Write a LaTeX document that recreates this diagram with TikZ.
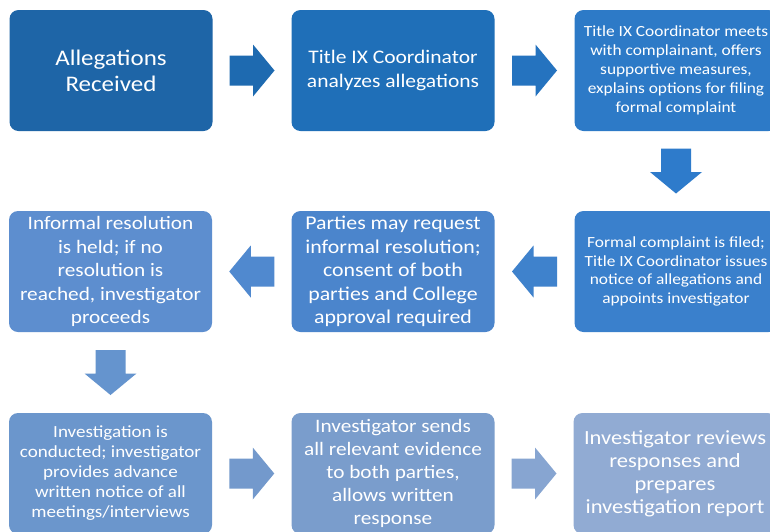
\documentclass[tikz,border=0pt]{standalone}
\usepackage{fontspec}
\setmainfont{Carlito}[FakeStretch=1.12]
\usetikzlibrary{calc}
\definecolor{cA}{HTML}{1E65A7}
\definecolor{cB}{HTML}{1F6FB8}
\definecolor{cC}{HTML}{2D7AC7}
\definecolor{cD}{HTML}{3A80CC}
\definecolor{cE}{HTML}{4B85CC}
\definecolor{cF}{HTML}{5D8ECF}
\definecolor{cG}{HTML}{6B96CC}
\definecolor{cH}{HTML}{7A9DCC}
\definecolor{cI}{HTML}{91ABD3}
\definecolor{aA}{HTML}{1E6AB0}
\definecolor{aB}{HTML}{2573BF}
\definecolor{aC}{HTML}{2E7BCB}
\definecolor{aD}{HTML}{3F82CC}
\definecolor{aE}{HTML}{5089CF}
\definecolor{aF}{HTML}{6594CE}
\definecolor{aG}{HTML}{7399CC}
\definecolor{aH}{HTML}{87A5D1}
\tikzset{
  stepbox/.style={rectangle, rounded corners=9pt, minimum width=203pt, minimum height=121pt,
    inner sep=0pt, align=center, text=white},
  blockarrow/.pic={\fill (-22.5,-15) -- (1,-15) -- (1,-26) -- (22.5,0) -- (1,26) -- (1,15) -- (-22.5,15) -- cycle;}
}
\newcommand{\fs}[2]{\fontsize{#1}{#2}\selectfont}
\begin{document}
\begin{tikzpicture}[x=1pt,y=-1pt]
\useasboundingbox (0,0) rectangle (770,531);
\fill[white] (0,0) rectangle (770,531);
\node[stepbox, fill=cA, font=\fs{22.3}{26}] (b1) at (111,70.5) {Allegations\\Received};
\node[stepbox, fill=cB, font=\fs{19.2}{23.5}] (b2) at (393,70.5) {Title IX Coordinator\\analyzes allegations};
\node[stepbox, fill=cC, font=\fs{15.5}{19}] (b3) at (676,70.5) {Title IX Coordinator meets\\with complainant, offers\\supportive measures,\\explains options for filing\\formal complaint};
\node[stepbox, fill=cF, font=\fs{19}{23.5}] (b4) at (110.5,271.5) {Informal resolution\\is held; if no\\resolution is\\reached, investigator\\proceeds};
\node[stepbox, fill=cE, font=\fs{19.5}{23.5}] (b5) at (393,271.5) {Parties may request\\informal resolution;\\consent of both\\parties and College\\approval required};
\node[stepbox, fill=cD, font=\fs{15.5}{18.5}] (b6) at (676,271.5) {Formal complaint is filed;\\Title IX Coordinator issues\\notice of allegations and\\appoints investigator};
\node[stepbox, fill=cG, font=\fs{17}{20}] (b7) at (110.5,473.5) {Investigation is\\conducted; investigator\\provides advance\\written notice of all\\meetings/interviews};
\node[stepbox, fill=cH, font=\fs{19}{23}] (b8) at (393,473.5) {Investigator sends\\all relevant evidence\\to both parties,\\allows written\\response};
\node[stepbox, fill=cI, font=\fs{20.1}{23}] (b9) at (675,473.5) {Investigator reviews\\responses and\\prepares\\investigation report};
% block arrows between steps
\path ($(b1.east)!0.5!(b2.west)$) pic[fill=aA] {blockarrow};
\path ($(b2.east)!0.5!(b3.west)$) pic[fill=aB] {blockarrow};
\path ($(b3.south)!0.5!(b6.north)$) pic[fill=aC, rotate=-90] {blockarrow};
\path ($(b6.west)!0.5!(b5.east)$) pic[fill=aD, rotate=180] {blockarrow};
\path ($(b5.west)!0.5!(b4.east)$) pic[fill=aE, rotate=180] {blockarrow};
\path ($(b4.south)!0.5!(b7.north)$) pic[fill=aF, rotate=-90] {blockarrow};
\path ($(b7.east)!0.5!(b8.west)$) pic[fill=aG] {blockarrow};
\path ($(b8.east)!0.5!(b9.west)$) pic[fill=aH] {blockarrow};
\end{tikzpicture}
\end{document}
